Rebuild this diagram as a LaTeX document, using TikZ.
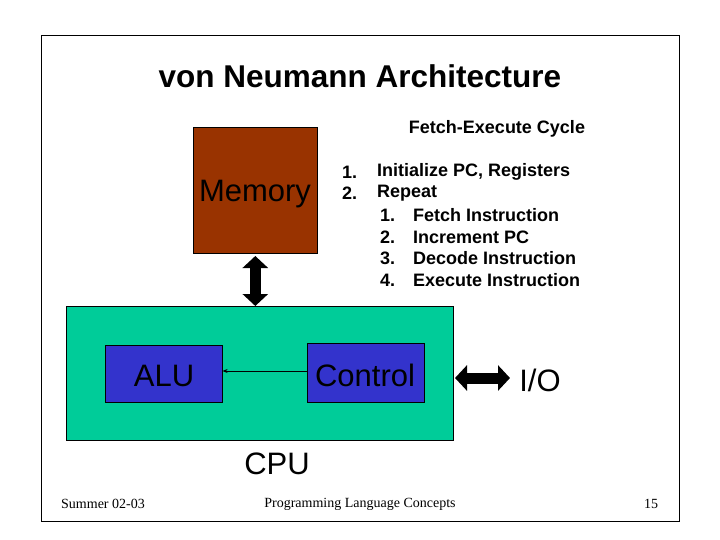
\documentclass[tikz,border=0pt]{standalone}
\usepackage{fontspec}
\setmainfont{Liberation Sans}
\newfontfamily\tms{Liberation Serif}
\usetikzlibrary{arrows.meta}
\definecolor{brn}{HTML}{993300}
\definecolor{grn}{HTML}{00CC99}
\definecolor{blu}{HTML}{3333CC}
\begin{document}
\begin{tikzpicture}[x=1pt,y=-1pt,
 box/.style={draw=black,line width=0.6pt,anchor=north west,inner sep=0},
 big/.style={font=\fontsize{31}{35}\selectfont,inner sep=0},
 fat/.style={line width=11pt,{Triangle[length=12pt,width=25pt]}-{Triangle[length=12pt,width=25pt]}},
 bl/.style={font=\bfseries\fontsize{18}{21}\selectfont,anchor=west,inner sep=0},
 ft/.style={font=\tms\fontsize{14}{16}\selectfont,inner sep=0}]
\useasboundingbox (0,0) rectangle (720,540);
\fill[white] (0,0) rectangle (720,540);
\draw[line width=1pt] (41,36) rectangle (679,521);
\node[font=\bfseries\fontsize{31.5}{36}\selectfont,inner sep=0] (title) at (360,76) {von Neumann Architecture};
\node[font=\bfseries\fontsize{18}{21}\selectfont,inner sep=0] (fec) at (497,129) {Fetch-Execute Cycle};
\node[box,fill=brn,minimum width=124pt,minimum height=126pt] (mem) at (193,127) {};
\node[big] at (255,194) {Memory};
\node[box,fill=grn,minimum width=387pt,minimum height=134pt] (cpu) at (66,306) {};
\node[box,fill=blu,minimum width=117pt,minimum height=57pt] (alu) at (105,345) {};
\node[big] at (164,376) {ALU};
\node[box,fill=blu,minimum width=117pt,minimum height=59pt] (ctl) at (307,343) {};
\node[big] at (365,375) {Control};
\draw[line width=0.8pt,-{Stealth[length=5pt,width=4pt]}] (ctl.west|-0,371) -- (alu.east|-0,371);
\coordinate (iol) at (455,378);
\node[big] (io) at (540,380) {I/O};
\draw[fat] (mem.south|-0,256) -- (mem.south|-0,306);
\draw[fat] (iol) -- (510,378);
\node[big] (cpul) at (277,464) {CPU};
\foreach \n/\t/\y in {1./Initialize PC{,} Registers/172,2./Repeat/193}{
 \node[bl] at (342,\y) {\n}; \node[bl] at (377,\y) {\t};}
\foreach \n/\t/\y in {1./Fetch Instruction/215,2./Increment PC/237,3./Decode Instruction/258,4./Execute Instruction/280}{
 \node[bl] at (380,\y) {\n}; \node[bl] at (413,\y) {\t};}
\node[ft] (f1) at (103,504) {Summer 02-03};
\node[ft] (f2) at (360,504) {Programming Language Concepts};
\node[ft] (f3) at (651,504) {15};
\end{tikzpicture}
\end{document}
